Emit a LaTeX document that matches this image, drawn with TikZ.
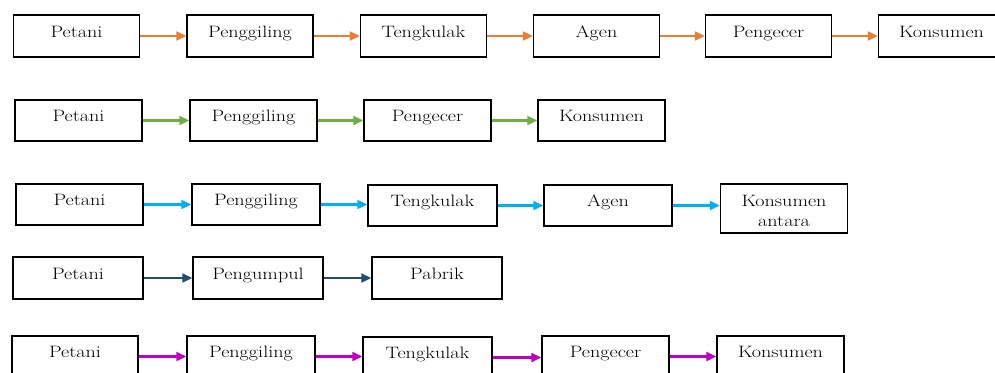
\documentclass[tikz,border=0pt]{standalone}
\usepackage{graphicx}
\usetikzlibrary{arrows.meta}
\definecolor{corange}{RGB}{237,125,49}
\definecolor{cgreen}{RGB}{112,173,71}
\definecolor{cblue}{RGB}{0,176,240}
\definecolor{cdark}{RGB}{31,78,121}
\definecolor{cmag}{RGB}{192,0,192}
\newcommand{\wtxt}[1]{\scalebox{1.22}[1]{#1}}
\begin{document}
\begin{tikzpicture}[x=1pt,y=-1pt,
  box/.style={draw=black,line width=1.5pt,rectangle,inner sep=0pt,
    minimum width=#1,minimum height=41pt,text height=12pt,text depth=9.4pt,
    font=\fontsize{16.5}{19.5}\selectfont},
  box/.default=126pt,
  arr/.style={draw=#1,line width=2.3pt,-{Triangle[length=10pt,width=9pt]}}]
\useasboundingbox (0,0) rectangle (995,372);
\clip (0,0) rectangle (995,372);
% Row 1
\node[box,minimum height=42pt] (a1) at (76.5,36) {\wtxt{Petani}};
\node[box,minimum height=42pt] (a2) at (250,36) {\wtxt{Penggiling}};
\node[box,minimum height=42pt] (a3) at (423.5,36) {\wtxt{Tengkulak}};
\node[box,minimum height=42pt] (a4) at (596.5,36) {\wtxt{Agen}};
\node[box,minimum height=42pt] (a5) at (768.5,36) {\wtxt{Pengecer}};
\node[box,minimum height=42pt] (a6) at (941.5,36) {\wtxt{Konsumen}};
\foreach \i/\j in {a1/a2,a2/a3,a3/a4,a4/a5,a5/a6}
  \draw[arr=corange] (\i.east) -- (\i.east -| \j.west);
% Row 2
\node[box=127pt] (b1) at (78.5,120.5) {\wtxt{Petani}};
\node[box=127pt] (b2) at (253.5,120.5) {\wtxt{Penggiling}};
\node[box=127pt] (b3) at (427.5,120.5) {\wtxt{Pengecer}};
\node[box=127pt] (b4) at (601.5,120.5) {\wtxt{Konsumen}};
\foreach \i/\j in {b1/b2,b2/b3,b3/b4}
  \draw[arr=cgreen] (\i.east) -- (\i.east -| \j.west);
% Row 3
\node[box=127pt] (c1) at (79.5,204.5) {\wtxt{Petani}};
\node[box=128pt] (c2) at (256,204.5) {\wtxt{Penggiling}};
\node[box=129pt] (c3) at (432.5,205.5) {\wtxt{Tengkulak}};
\node[box=128pt] (c4) at (608,205.5) {\wtxt{Agen}};
\node[box=127pt,minimum height=49pt,align=center,text height=38pt,text depth=3pt] (c5) at (784,208.5) {\wtxt{Konsumen}\\\wtxt{antara}};
\foreach \i/\j in {c1/c2,c2/c3,c3/c4,c4/c5}
  \draw[arr=cblue] (\i.east) -- (\i.east -| \j.west);
% Row 4
\node[box=130pt,minimum height=42pt] (d1) at (78,278) {\wtxt{Petani}};
\node[box=130pt,minimum height=42pt] (d2) at (258,278) {\wtxt{Pengumpul}};
\node[box=130pt,minimum height=42pt] (d3) at (437,278) {\wtxt{Pabrik}};
\foreach \i/\j in {d1/d2,d2/d3}
  \draw[arr=cdark] (\i.east) -- (\i.east -| \j.west);
% Row 5
\node[box=126pt] (e1) at (75,356.5) {\wtxt{Petani}};
\node[box=128pt] (e2) at (251,356.5) {\wtxt{Penggiling}};
\node[box=129pt] (e3) at (427.5,357.5) {\wtxt{Tengkulak}};
\node[box=127pt] (e4) at (605.5,356.5) {\wtxt{Pengecer}};
\node[box=127pt] (e5) at (780.5,356.5) {\wtxt{Konsumen}};
\foreach \i/\j in {e1/e2,e2/e3,e3/e4,e4/e5}
  \draw[arr=cmag] (\i.east) -- (\i.east -| \j.west);
\end{tikzpicture}
\end{document}
